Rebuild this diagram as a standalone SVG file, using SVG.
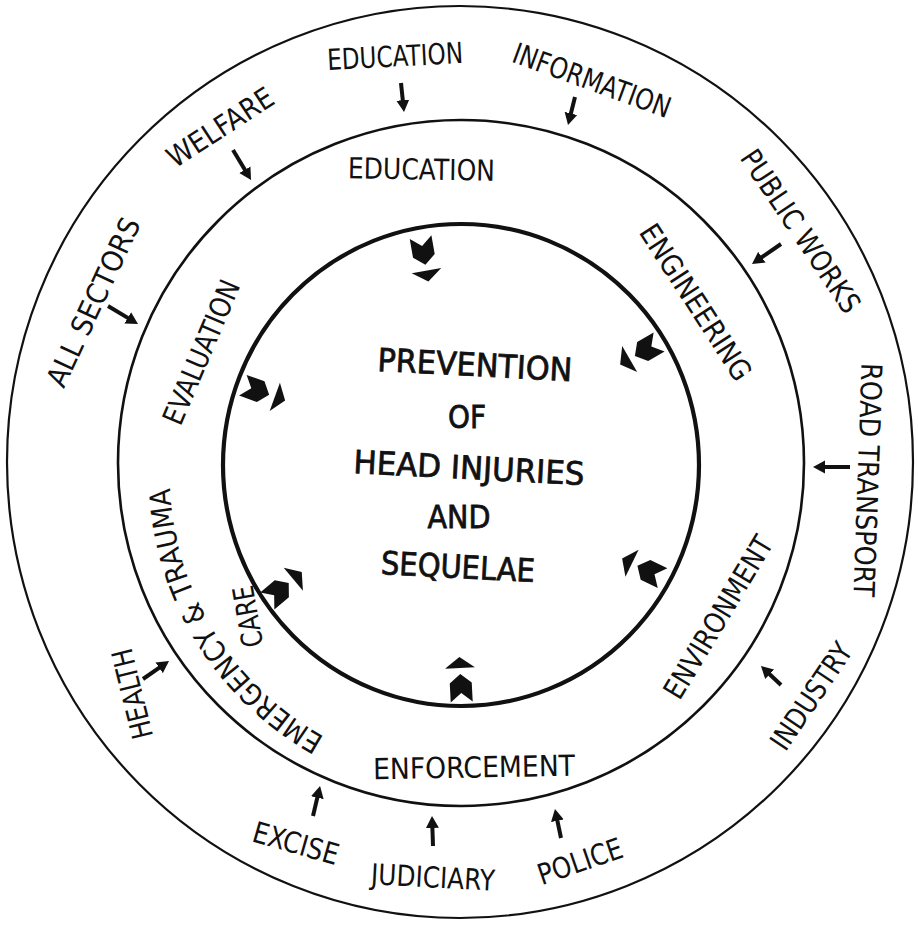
<svg xmlns="http://www.w3.org/2000/svg" xmlns:xlink="http://www.w3.org/1999/xlink" width="918" height="926" viewBox="0 0 918 926">
  <style>
    .ring { fill: none; stroke: #111; }
    .lbl { font-family: "DejaVu Sans", "Liberation Sans", sans-serif; font-size: 29px; fill: #111; }
    .core { font-family: "DejaVu Sans", "Liberation Sans", sans-serif; font-size: 32px; fill: #111; stroke: #111; stroke-width: 0.8px; }
    .arrow { stroke: #111; stroke-width: 4; fill: none; marker-end: url(#head); }
    .mark { fill: #111; }
  </style>
  <defs>
    <marker id="head" markerUnits="userSpaceOnUse" viewBox="0 -7 14 14" refX="3" refY="0" markerWidth="14" markerHeight="14" orient="auto">
      <path d="M0,-6.5 L12,0 L0,6.5 Z" fill="#111"/>
    </marker>
    <!-- notched chevron with a flat wedge ahead of it, pointing along +x -->
    <g id="mark">
      <path d="M-14,11 L-5,0 L-14,-11 L5,-11 L14,0 L5,11 Z"/>
      <path d="M20,-15 L31,0 L20,15 Z"/>
    </g>
    <path id="arc-emergency" d="M324.5,736.8 A300,300 0 0 1 169.9,485.9" fill="none"/>
  </defs>

  <rect width="918" height="926" fill="#fff"/>

  <!-- rings -->
  <g id="rings">
    <ellipse class="ring" cx="460" cy="462" rx="453" ry="456" stroke-width="2.2"/>
    <circle class="ring" cx="461" cy="463" r="343" stroke-width="2.6"/>
    <ellipse class="ring" cx="461" cy="465" rx="238" ry="241" stroke-width="4.2"/>
  </g>

  <!-- core statement -->
  <g id="core">
    <text class="core" text-anchor="middle" x="475" y="376" transform="rotate(3 475 364)" textLength="195" lengthAdjust="spacingAndGlyphs">PREVENTION</text>
    <text class="core" text-anchor="middle" x="467" y="428" textLength="38" lengthAdjust="spacingAndGlyphs">OF</text>
    <text class="core" text-anchor="middle" x="469" y="479" transform="rotate(3 469 467)" textLength="231" lengthAdjust="spacingAndGlyphs">HEAD INJURIES</text>
    <text class="core" text-anchor="middle" x="459" y="528" textLength="63" lengthAdjust="spacingAndGlyphs">AND</text>
    <text class="core" text-anchor="middle" x="458" y="578" transform="rotate(3 458 566)" textLength="154" lengthAdjust="spacingAndGlyphs">SEQUELAE</text>
  </g>

  <!-- inward markers around the core -->
  <g id="markers" class="mark">
    <use href="#mark" transform="translate(423,251) rotate(80)"/>
    <use href="#mark" transform="translate(647,349) rotate(150)"/>
    <use href="#mark" transform="translate(650,572) rotate(206)"/>
    <use href="#mark" transform="translate(461,688) rotate(-93)"/>
    <use href="#mark" transform="translate(278,592) rotate(-40)"/>
    <use href="#mark" transform="translate(256,390) rotate(20)"/>
  </g>

  <!-- middle ring: strategies -->
  <g id="mid-education" transform="translate(421.5,169) rotate(1)">
    <text class="lbl" text-anchor="middle" x="0" y="10.5" textLength="147" lengthAdjust="spacingAndGlyphs">EDUCATION</text>
  </g>
  <g id="mid-engineering" transform="translate(696,302) rotate(57)">
    <text class="lbl" text-anchor="middle" x="0" y="10.5" textLength="180" lengthAdjust="spacingAndGlyphs">ENGINEERING</text>
  </g>
  <g id="mid-environment" transform="translate(718,617) rotate(-59)">
    <text class="lbl" text-anchor="middle" x="0" y="10.5" textLength="184" lengthAdjust="spacingAndGlyphs">ENVIRONMENT</text>
  </g>
  <g id="mid-enforcement" transform="translate(474,767) rotate(-1)">
    <text class="lbl" text-anchor="middle" x="0" y="10.5" textLength="202" lengthAdjust="spacingAndGlyphs">ENFORCEMENT</text>
  </g>
  <g id="mid-emergency">
    <text class="lbl"><textPath href="#arc-emergency" textLength="306" lengthAdjust="spacingAndGlyphs">EMERGENCY &amp; TRAUMA</textPath></text>
    <g transform="translate(247.5,616.5) rotate(-100)">
      <text class="lbl" text-anchor="middle" x="0" y="10.5" textLength="62" lengthAdjust="spacingAndGlyphs">CARE</text>
    </g>
  </g>
  <g id="mid-evaluation" transform="translate(201,352) rotate(-67)">
    <text class="lbl" text-anchor="middle" x="0" y="10.5" textLength="154" lengthAdjust="spacingAndGlyphs">EVALUATION</text>
  </g>

  <!-- outer ring: sectors -->
  <g id="out-education" transform="translate(395,56) rotate(-3)">
    <text class="lbl" text-anchor="middle" x="0" y="10.5" textLength="136" lengthAdjust="spacingAndGlyphs">EDUCATION</text>
  </g>
  <g id="out-information" transform="translate(592,80) rotate(20)">
    <text class="lbl" text-anchor="middle" x="0" y="10.5" textLength="166" lengthAdjust="spacingAndGlyphs">INFORMATION</text>
  </g>
  <g id="out-public-works" transform="translate(801,231) rotate(56)">
    <text class="lbl" text-anchor="middle" x="0" y="10.5" textLength="190" lengthAdjust="spacingAndGlyphs">PUBLIC WORKS</text>
  </g>
  <g id="out-road-transport" transform="translate(868,480) rotate(92)">
    <text class="lbl" text-anchor="middle" x="0" y="10.5" textLength="234" lengthAdjust="spacingAndGlyphs">ROAD TRANSPORT</text>
  </g>
  <g id="out-industry" transform="translate(811,696) rotate(-56)">
    <text class="lbl" text-anchor="middle" x="0" y="10.5" textLength="122" lengthAdjust="spacingAndGlyphs">INDUSTRY</text>
  </g>
  <g id="out-police" transform="translate(580,861) rotate(-19)">
    <text class="lbl" text-anchor="middle" x="0" y="10.5" textLength="88" lengthAdjust="spacingAndGlyphs">POLICE</text>
  </g>
  <g id="out-judiciary" transform="translate(433,877) rotate(3)">
    <text class="lbl" text-anchor="middle" x="0" y="10.5" textLength="124" lengthAdjust="spacingAndGlyphs">JUDICIARY</text>
  </g>
  <g id="out-excise" transform="translate(296,843) rotate(16)">
    <text class="lbl" text-anchor="middle" x="0" y="10.5" textLength="88" lengthAdjust="spacingAndGlyphs">EXCISE</text>
  </g>
  <g id="out-health" transform="translate(132,694) rotate(-104)">
    <text class="lbl" text-anchor="middle" x="0" y="10.5" textLength="92" lengthAdjust="spacingAndGlyphs">HEALTH</text>
  </g>
  <g id="out-all-sectors" transform="translate(93,302) rotate(-65)">
    <text class="lbl" text-anchor="middle" x="0" y="10.5" textLength="183" lengthAdjust="spacingAndGlyphs">ALL SECTORS</text>
  </g>
  <g id="out-welfare" transform="translate(220,127) rotate(-33)">
    <text class="lbl" text-anchor="middle" x="0" y="10.5" textLength="121" lengthAdjust="spacingAndGlyphs">WELFARE</text>
  </g>

  <!-- connectors: sector inputs toward the strategy ring -->
  <g id="connectors">
    <line class="arrow" x1="401" y1="83" x2="403.1" y2="103.1"/>
    <line class="arrow" x1="575" y1="97" x2="570.2" y2="116.3"/>
    <line class="arrow" x1="233" y1="150" x2="246.4" y2="172.3"/>
    <line class="arrow" x1="781" y1="244" x2="759.4" y2="258.9"/>
    <line class="arrow" x1="850" y1="467" x2="822" y2="467"/>
    <line class="arrow" x1="781" y1="685" x2="767.5" y2="672.2"/>
    <line class="arrow" x1="561" y1="838" x2="556.8" y2="817.8"/>
    <line class="arrow" x1="433" y1="846" x2="432.3" y2="825"/>
    <line class="arrow" x1="313" y1="816" x2="318" y2="794.8"/>
    <line class="arrow" x1="143" y1="679" x2="161.6" y2="666.1"/>
    <line class="arrow" x1="108" y1="306" x2="130.3" y2="319.4"/>
  </g>
</svg>
